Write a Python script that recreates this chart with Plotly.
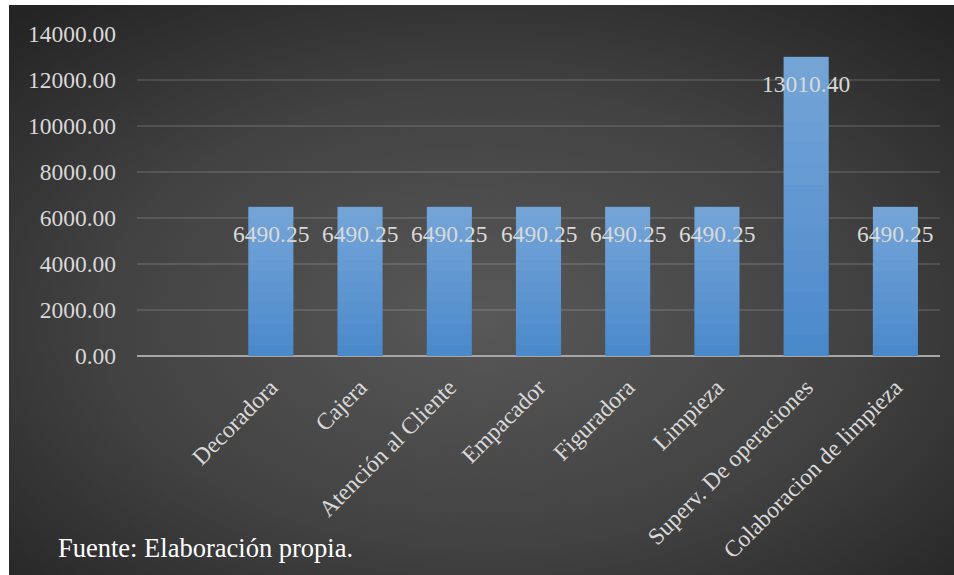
import base64
import plotly.graph_objects as go

# ---- data ----
categories = ["Decoradora", "Cajera", "Atención al Cliente", "Empacador",
              "Figuradora", "Limpieza", "Superv. De operaciones",
              "Colaboracion de limpieza"]
values = [6490.25, 6490.25, 6490.25, 6490.25, 6490.25, 6490.25, 13010.40, 6490.25]
y_ticks = [0, 2000, 4000, 6000, 8000, 10000, 12000, 14000]
y_tick_labels = [f"{v:.2f}" for v in y_ticks]
footer = "Fuente: Elaboración propia."

# ---- geometry ----
W, H = 954, 575
ML, MR, MT, MB = 137, 14, 34, 219
pw, ph = W - ML - MR, H - MT - MB
# dark panel bounds (pixels)
px0, px1, py0, py1 = 9, 954, 5, 575

FONT = "Liberation Serif, Times New Roman, serif"
LABEL_COLOR = "#d9d9d9"
FS = 23.5

svg = f'''<svg xmlns="http://www.w3.org/2000/svg" width="{px1-px0}" height="{py1-py0}" viewBox="0 0 {px1-px0} {py1-py0}" preserveAspectRatio="none">
<defs><radialGradient id="g" cx="0.5" cy="0.55" r="0.72" gradientUnits="objectBoundingBox">
<stop offset="0" stop-color="#585858"/><stop offset="0.55" stop-color="#424242"/><stop offset="1" stop-color="#242424"/>
</radialGradient></defs>
<rect x="0" y="0" width="{px1-px0}" height="{py1-py0}" fill="url(#g)"/></svg>'''
src = "data:image/svg+xml;base64," + base64.b64encode(svg.encode()).decode()

xs = list(range(len(categories)))
fig = go.Figure()
fig.add_trace(go.Bar(
    x=xs, y=values,
    marker=dict(color="#4a8acb", line=dict(width=0)),
    hoverinfo="skip",
))
# vertical light gradient on each bar (overlaid translucent layers)
N_LAYERS = 14
for j in range(1, N_LAYERS):
    f = j / N_LAYERS
    fig.add_trace(go.Bar(
        x=xs, y=[v * (1 - f) for v in values], base=[v * f for v in values],
        marker=dict(color="rgba(255,255,255,0.022)", line=dict(width=0)),
        hoverinfo="skip",
    ))

for i, v in enumerate(values):
    fig.add_annotation(x=i, y=v, text=f"{v:.2f}", showarrow=False,
                       yanchor="middle", yshift=-27,
                       font=dict(family=FONT, size=FS, color=LABEL_COLOR))

fig.add_annotation(xref="paper", yref="paper",
                   x=(56 - ML) / pw, y=(MT + ph - 548) / ph,
                   xanchor="left", yanchor="middle", showarrow=False,
                   text=footer, font=dict(family=FONT, size=26.5, color="#ffffff"))

fig.add_layout_image(dict(
    source=src, xref="paper", yref="paper",
    x=(px0 - ML) / pw, y=(MT + ph - py0) / ph,
    sizex=(px1 - px0) / pw, sizey=(py1 - py0) / ph,
    xanchor="left", yanchor="top", sizing="stretch", layer="below",
))

fig.update_layout(
    width=W, height=H,
    margin=dict(l=ML, r=MR, t=MT, b=MB, pad=0),
    paper_bgcolor="#ffffff", plot_bgcolor="rgba(0,0,0,0)",
    barmode="overlay", bargap=0.494, showlegend=False,
    font=dict(family=FONT, size=FS, color=LABEL_COLOR),
    xaxis=dict(
        range=[-1.5, len(categories) - 0.5],
        tickmode="array", tickvals=xs, ticktext=categories,
        tickangle=-45, showgrid=False, zeroline=False, showline=False,
        ticks="", tickfont=dict(family=FONT, size=FS, color=LABEL_COLOR),
        ticklabelstandoff=12,
    ),
    yaxis=dict(
        range=[0, 14000], tickmode="array", tickvals=y_ticks, ticktext=y_tick_labels,
        showgrid=True, gridcolor="rgba(255,255,255,0.12)", gridwidth=1.5,
        zeroline=True, zerolinecolor="#a6a6a6", zerolinewidth=2,
        showline=False, ticks="", ticklabelstandoff=20,
        tickfont=dict(family=FONT, size=FS, color=LABEL_COLOR),
    ),
)

fig.write_html("out.html", config={"displayModeBar": False},
               post_script="document.body.style.margin='0';document.body.style.overflow='hidden';")
